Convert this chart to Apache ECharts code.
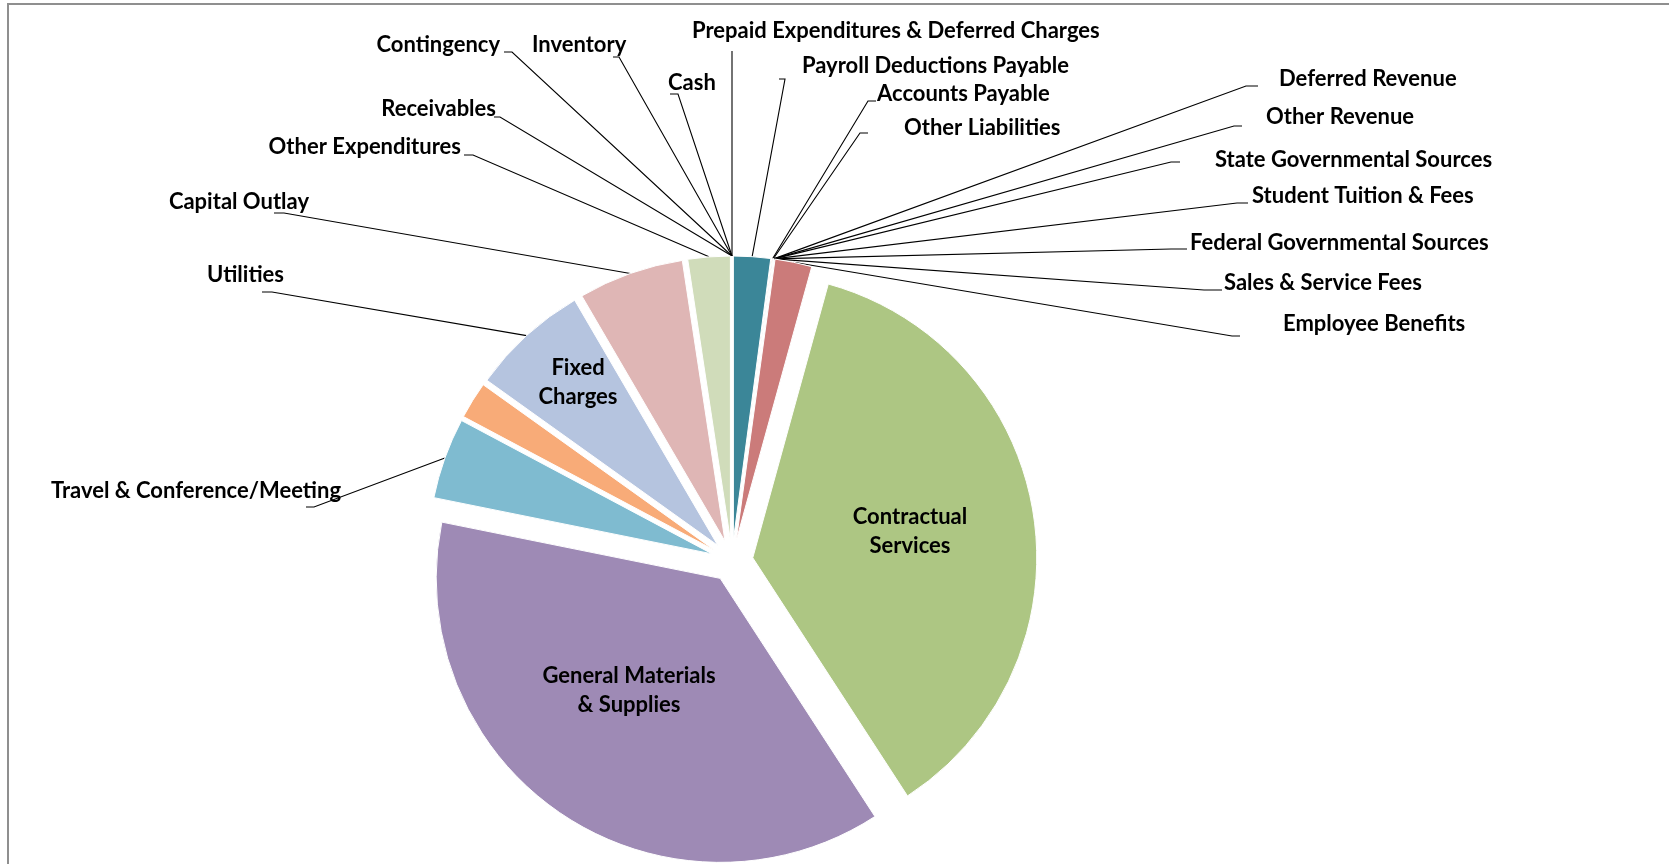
<!DOCTYPE html>
<html>
<head>
<meta charset="utf-8">
<script src="https://cdn.jsdelivr.net/npm/echarts@6/dist/echarts.min.js"></script>
<style>
  html, body { margin: 0; padding: 0; background: #fff; }
  #main { width: 1669px; height: 864px; }
</style>
</head>
<body>
<div id="main"></div>
<script>
// slices, clockwise from 12 o'clock
const categories = [
    'Cash',
    'Receivables',
    'Inventory',
    'Prepaid Expenditures & Deferred Charges',
    'Payroll Deductions Payable',
    'Accounts Payable',
    'Other Liabilities',
    'Deferred Revenue',
    'Other Revenue',
    'State Governmental Sources',
    'Student Tuition & Fees',
    'Federal Governmental Sources',
    'Sales & Service Fees',
    'Employee Benefits',
    'Contractual Services',
    'General Materials & Supplies',
    'Travel & Conference/Meeting',
    'Fixed Charges',
    'Utilities',
    'Capital Outlay',
    'Other Expenditures',
    'Contingency'
];
const values = [0, 0, 0, 0, 2.1, 0.04, 0.04, 0, 0, 0, 0, 0, 0, 2.1, 36.5, 37.3, 4.6, 2.1, 6.7, 6.0, 2.4, 0];

const sliceColors = [
    '#4f81bd', '#c0504d', '#9bbb59', '#8064a2', '#3b8698', '#f79646',
    '#7b74b8', '#4f81bd', '#c0504d', '#9bbb59', '#8064a2', '#4bacc6',
    '#f79646', '#cb7b7a', '#adc683', '#9e8ab5', '#7fbbd0', '#f8ab78',
    '#b5c4df', '#dfb6b5', '#d0dcba', '#4f81bd'
];

// where each label sits: [x, y, align]
const labelSpots = {
    'Cash': [668, 83, 'left'],
    'Inventory': [532, 45, 'left'],
    'Contingency': [500, 45, 'right'],
    'Receivables': [496, 109, 'right'],
    'Other Expenditures': [461, 147, 'right'],
    'Capital Outlay': [309, 202, 'right'],
    'Utilities': [284, 275, 'right'],
    'Travel & Conference/Meeting': [341, 491, 'right'],
    'Prepaid Expenditures & Deferred Charges': [692, 31, 'left'],
    'Payroll Deductions Payable': [802, 66, 'left'],
    'Accounts Payable': [877, 94, 'left'],
    'Other Liabilities': [904, 128, 'left'],
    'Deferred Revenue': [1279, 79, 'left'],
    'Other Revenue': [1266, 117, 'left'],
    'State Governmental Sources': [1215, 160, 'left'],
    'Student Tuition & Fees': [1252, 196, 'left'],
    'Federal Governmental Sources': [1190, 243, 'left'],
    'Sales & Service Fees': [1224, 283, 'left'],
    'Employee Benefits': [1283, 324, 'left'],
    'Fixed Charges': [578, 382, 'center'],
    'Contractual Services': [910, 531, 'center'],
    'General Materials & Supplies': [629, 690, 'center']
};
// short horizontal stub next to each label: [x where the leader meets it, x at the label, y]
const leaderStubs = {
    'Cash': [678, 670, 94],
    'Inventory': [619, 613, 57],
    'Contingency': [512, 504, 52],
    'Receivables': [500, 494, 117],
    'Other Expenditures': [473, 464, 155],
    'Capital Outlay': [284, 274, 213],
    'Utilities': [272, 262, 292],
    'Travel & Conference/Meeting': [314, 306, 507],
    'Prepaid Expenditures & Deferred Charges': [732, 732, 51],
    'Payroll Deductions Payable': [785, 779, 79],
    'Accounts Payable': [868, 876, 101],
    'Other Liabilities': [860, 868, 133],
    'Deferred Revenue': [1246, 1258, 86],
    'Other Revenue': [1234, 1242, 126],
    'State Governmental Sources': [1171, 1180, 162],
    'Student Tuition & Fees': [1237, 1248, 203],
    'Federal Governmental Sources': [1171, 1187, 249],
    'Sales & Service Fees': [1204, 1222, 290],
    'Employee Benefits': [1232, 1240, 336]
};
const insideText = {
    'Fixed Charges': 'Fixed\nCharges',
    'Contractual Services': 'Contractual\nServices',
    'General Materials & Supplies': 'General Materials\n& Supplies'
};

const pieCenter = [732, 561];
const pieRadius = 284;
const explode = 21;

const myChart = echarts.init(document.getElementById('main'));

// the visible, exploded slices
const sliceData = categories.map(function (name, i) {
    return {
        name: name,
        value: values[i],
        selected: true,
        itemStyle: {color: sliceColors[i]}
    };
});

// same slices again, invisible, only to carry the labels and leader lines
const labelData = categories.map(function (name, i) {
    const item = {name: name, value: values[i]};
    if (insideText[name]) {
        item.label = {position: 'inside', formatter: insideText[name], lineHeight: 29};
        item.labelLine = {show: false};
    }
    return item;
});

function layoutLabel(params) {
    const name = categories[params.dataIndex];
    const spot = labelSpots[name];
    if (!spot) {
        return {};
    }
    const res = {x: spot[0], y: spot[1], align: spot[2], verticalAlign: 'middle'};
    const stub = leaderStubs[name];
    const pts = params.labelLinePoints;
    if (stub && pts) {
        // leader starts at the middle of the slice's outer edge (computed by the pie)
        res.labelLinePoints = [pts[0], [stub[0], stub[2]], [stub[1], stub[2]]];
    }
    return res;
}

const option = {
    animation: false,
    backgroundColor: '#fff',
    graphic: [{
        type: 'rect',
        shape: {x: 8, y: 4, width: 2000, height: 2000},
        style: {fill: 'none', stroke: '#8f8f8f', lineWidth: 2},
        silent: true
    }],
    series: [{
        type: 'pie',
        center: pieCenter,
        radius: pieRadius,
        startAngle: 90,
        clockwise: true,
        selectedMode: 'multiple',
        selectedOffset: explode,
        itemStyle: {borderColor: '#fff', borderWidth: 1},
        emphasis: {disabled: true},
        label: {show: false},
        labelLine: {show: false},
        data: sliceData
    }, {
        type: 'pie',
        silent: true,
        center: pieCenter,
        radius: pieRadius + explode,
        startAngle: 90,
        clockwise: true,
        avoidLabelOverlap: false,
        itemStyle: {color: 'rgba(0,0,0,0)', borderWidth: 0},
        emphasis: {disabled: true},
        label: {
            show: true,
            position: 'outside',
            formatter: '{b}',
            color: '#000',
            fontFamily: 'Lato',
            fontWeight: 'bold',
            fontSize: 22
        },
        labelLine: {
            show: true,
            length: 10,
            length2: 8,
            lineStyle: {color: '#000', width: 1.1, opacity: 1}
        },
        labelLayout: layoutLabel,
        data: labelData
    }]
};

myChart.setOption(option);
</script>
</body>
</html>
